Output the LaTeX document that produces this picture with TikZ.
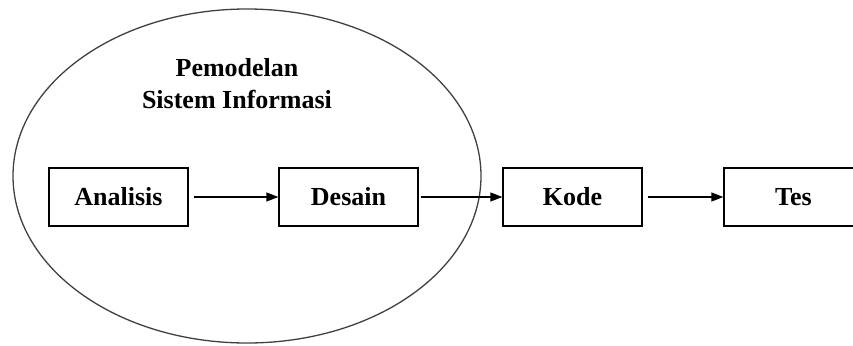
\documentclass[tikz,border=0pt]{standalone}
\usepackage{fontspec}
\setmainfont{Liberation Serif}
\usetikzlibrary{arrows.meta,shapes.geometric}
\begin{document}
\begin{tikzpicture}[x=1pt,y=-1pt,
  stage/.style={draw=black,line width=1.3pt,minimum width=139pt,minimum height=58pt,inner sep=0pt,font=\fontsize{26}{32}\selectfont\bfseries},
  flow/.style={line width=1.3pt,-{Triangle[length=12pt,width=9pt]}},
  scopeoval/.style={draw=black!75,line width=1.3pt,ellipse,minimum width=468pt,minimum height=334pt,inner sep=0pt}]
\useasboundingbox (0,0) rectangle (853,345);
\begin{scope}
\clip (0,0) rectangle (853,345);
\node[scopeoval] (oval) at (247,176) {};
\node[font=\fontsize{26}{32}\selectfont\bfseries,align=center] (title) at (237,84) {Pemodelan\\Sistem Informasi};
\node[stage] (analisis) at (118.5,197) {Analisis};
\node[stage] (desain) at (348.5,197) {Desain};
\node[stage] (kode) at (572.5,197) {Kode};
\node[stage] (tes) at (793.5,197) {Tes};
\draw[flow,shorten <=5pt] (analisis) -- (desain);
\draw[flow,shorten <=2pt] (desain) -- (kode);
\draw[flow,shorten <=5pt] (kode) -- (tes);
\end{scope}
\end{tikzpicture}
\end{document}
